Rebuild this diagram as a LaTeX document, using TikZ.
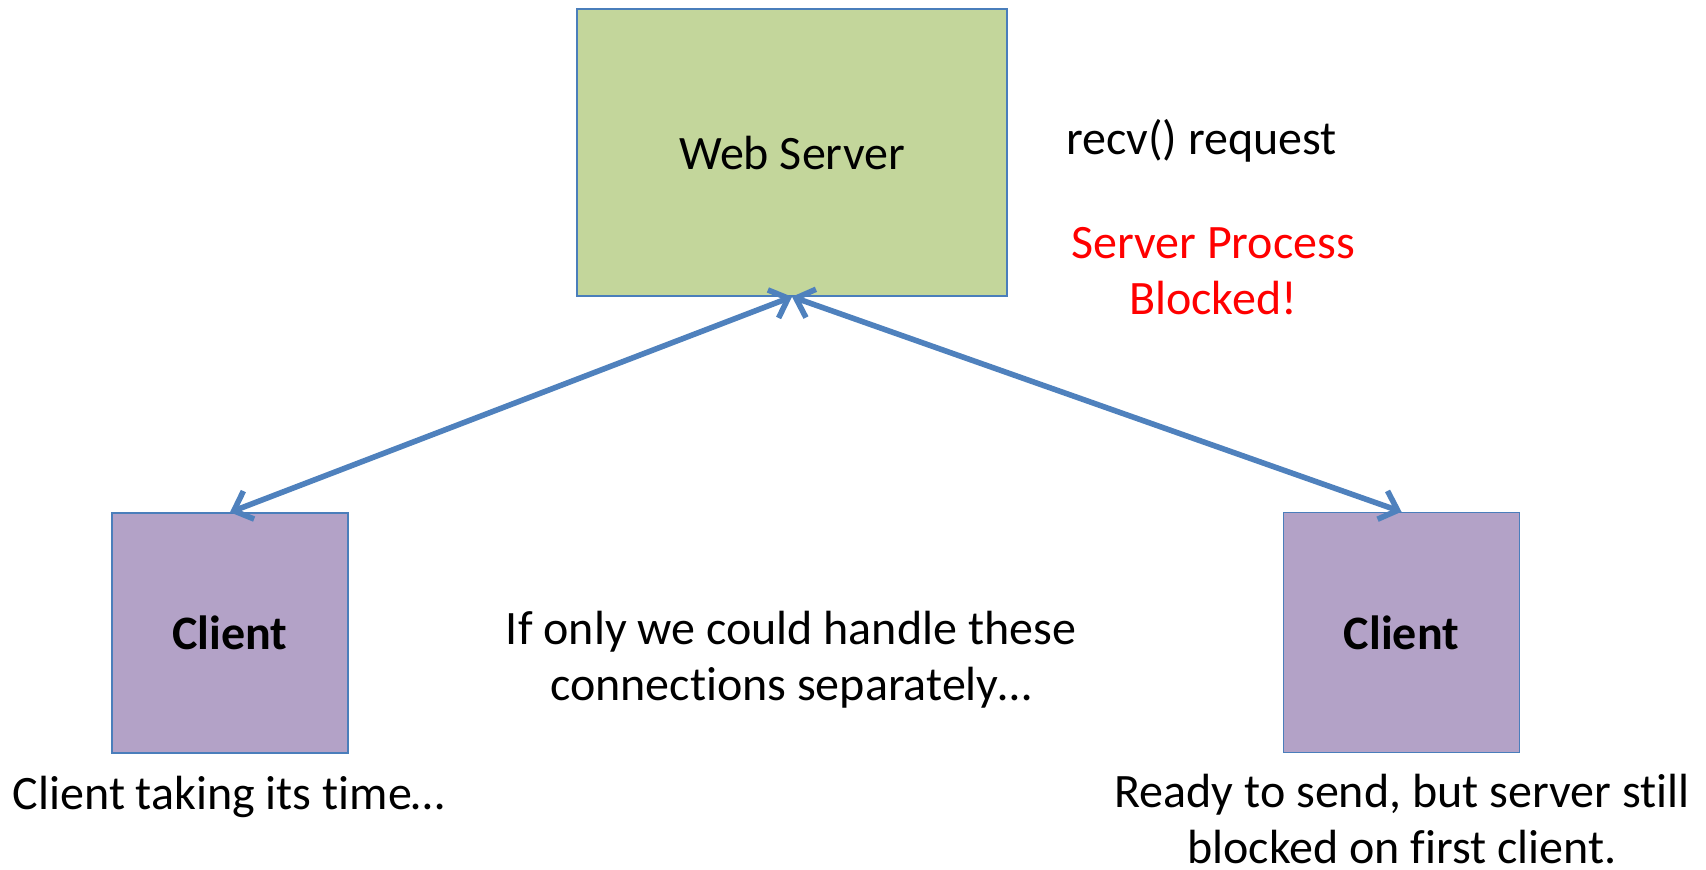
\documentclass[tikz,border=0pt]{standalone}
\usepackage{fontspec}
\setmainfont{Carlito}[Ligatures=NoCommon]
\usetikzlibrary{arrows.meta}
\definecolor{srvfill}{HTML}{C3D69B}
\definecolor{clifill}{HTML}{B3A2C7}
\definecolor{edge}{HTML}{4A7EBB}
\definecolor{link}{HTML}{4F81BD}
\definecolor{alert}{HTML}{FF0000}
\begin{document}
\begin{tikzpicture}[x=0.5pt,y=-0.5pt,
  every node/.style={font=\fontsize{24}{28}\selectfont, inner sep=0pt},
  server/.style={draw=edge, line width=0.75pt, fill=srvfill,
    minimum width=215pt, minimum height=143.5pt},
  client/.style={draw=edge, line width=0.75pt, fill=clifill,
    minimum width=118pt, minimum height=120pt, font=\fontsize{24}{28}\selectfont\bfseries},
  conn/.style={draw=link, line width=2.8pt,
    >={Straight Barb[length=8pt,width=15pt,line width=2.8pt]}, <->},
  note/.style={align=center}]
  \useasboundingbox (0,0) rectangle (1706,869);

  \node[server] (srv) at (792,152.5) {Web Server};
  \node[client] (c1) at (230,633) {Client};
  \node[client] (c2) at (1401.5,632.5) {Client};

  \draw[conn] (c1.north) -- (srv.south);
  \draw[conn] (srv.south) -- (c2.north);

  \node[anchor=west] (recv) at (1066,141) {recv() request};
  \node[note, text=alert] (blk) at (1213,271) {Server Process\\Blocked!};
  \node[note] (mid) at (791,660) {If only we could handle these\\connections separately…};
  \node (slow) at (229,797) {Client taking its time…};
  \node[note] (ready) at (1402,819) {Ready to send, but server still\\blocked on first client.};
\end{tikzpicture}
\end{document}
